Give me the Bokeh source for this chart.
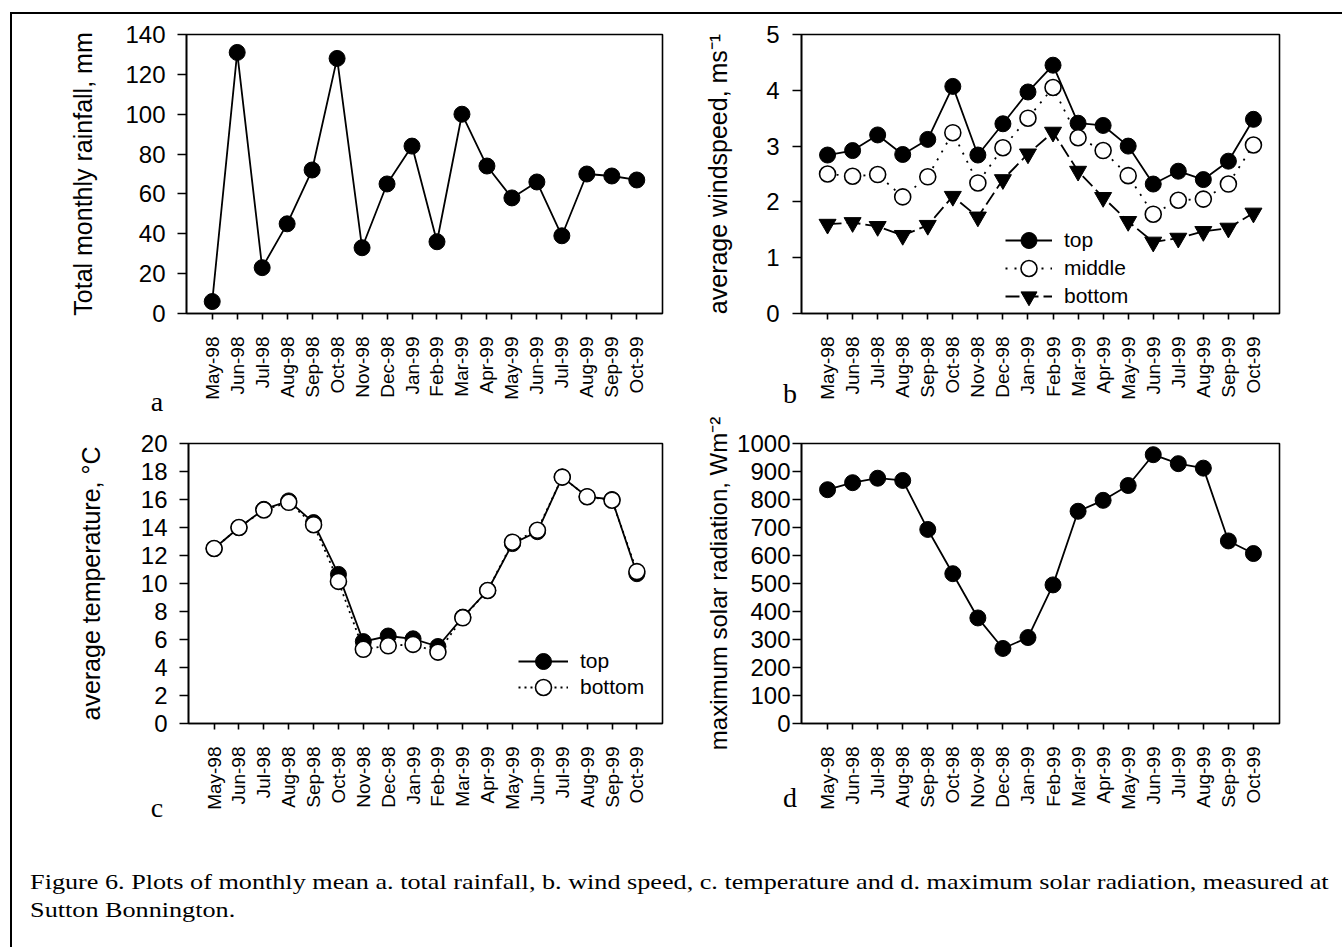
import math

from bokeh.plotting import figure
from bokeh.layouts import column, row
from bokeh.models import (FactorRange, Range1d, SingleIntervalTicker, Legend,
                          LegendItem, Div)
from bokeh.embed import file_html
from bokeh.resources import INLINE

# ---- data -------------------------------------------------------------
months = ["May-98", "Jun-98", "Jul-98", "Aug-98", "Sep-98", "Oct-98",
          "Nov-98", "Dec-98", "Jan-99", "Feb-99", "Mar-99", "Apr-99",
          "May-99", "Jun-99", "Jul-99", "Aug-99", "Sep-99", "Oct-99"]

rainfall = [6, 131, 23, 45, 72, 128, 33, 65, 84, 36, 100, 74, 58, 66, 39, 70, 69, 67]

wind_top = [2.84, 2.92, 3.2, 2.85, 3.12, 4.07, 2.84, 3.4, 3.97, 4.45,
            3.41, 3.37, 3.0, 2.32, 2.55, 2.4, 2.73, 3.48]
wind_middle = [2.5, 2.46, 2.49, 2.09, 2.45, 3.24, 2.34, 2.97, 3.5, 4.05,
               3.15, 2.92, 2.47, 1.78, 2.03, 2.05, 2.32, 3.02]
wind_bottom = [1.6, 1.63, 1.56, 1.4, 1.58, 2.1, 1.73, 2.4, 2.86, 3.25,
               2.55, 2.08, 1.65, 1.28, 1.35, 1.47, 1.53, 1.8]

temp_top = [12.5, 14.0, 15.3, 15.9, 14.35, 10.65, 5.85, 6.25, 6.05, 5.5,
            7.6, 9.5, 12.85, 13.7, 17.6, 16.2, 16.0, 10.7]
temp_bottom = [12.5, 14.0, 15.25, 15.8, 14.2, 10.15, 5.3, 5.55, 5.65, 5.1,
               7.55, 9.5, 12.95, 13.8, 17.6, 16.2, 15.95, 10.85]

solar = [835, 860, 876, 868, 693, 535, 377, 268, 307, 495, 758, 797, 850,
         960, 928, 912, 652, 607]

panel_letters = ["a", "b", "c", "d"]

caption_lines = [
    "Figure 6. Plots of monthly mean a. total rainfall, b. wind speed, "
    "c. temperature and d. maximum solar radiation, measured at",
    "Sutton Bonnington.",
]

# ---- styling helpers ---------------------------------------------------
SANS = "Liberation Sans"
SERIF = "Liberation Serif"
INK = "#000000"


def make_panel(width, height, borders, y_max, y_step, y_label, label_standoff,
               tick_standoff, pad, label_size="25px"):
    left, right, top, bottom = borders
    p = figure(width=width, height=height, output_backend="svg",
               toolbar_location=None,
               x_range=FactorRange(factors=months, range_padding=pad,
                                   range_padding_units="absolute"),
               y_range=Range1d(0, y_max),
               min_border_left=left, min_border_right=right,
               min_border_top=top, min_border_bottom=bottom)
    p.background_fill_color = "white"
    p.border_fill_color = "white"
    p.outline_line_color = INK
    p.outline_line_width = 1.6
    p.grid.visible = False

    xa = p.xaxis[0]
    xa.major_label_orientation = math.pi / 2
    xa.major_label_text_font = SANS
    xa.major_label_text_font_size = "19px"
    xa.major_label_text_color = INK
    xa.major_label_standoff = 17
    xa.major_tick_out = 6
    xa.major_tick_in = 0
    xa.axis_line_width = 1.6
    xa.major_tick_line_width = 1.6

    ya = p.yaxis[0]
    ya.ticker = SingleIntervalTicker(interval=y_step, num_minor_ticks=0)
    ya.major_label_text_font = SANS
    ya.major_label_text_font_size = "24px"
    ya.major_label_text_color = INK
    ya.major_label_standoff = tick_standoff
    ya.major_tick_out = 9
    ya.major_tick_in = 0
    ya.minor_tick_line_color = None
    ya.axis_line_width = 1.6
    ya.major_tick_line_width = 1.6
    ya.axis_label = y_label
    ya.axis_label_text_font = SANS
    ya.axis_label_text_font_size = label_size
    ya.axis_label_text_font_style = "normal"
    ya.axis_label_text_color = INK
    ya.axis_label_standoff = label_standoff
    return p


def legend_entry(p, label, renderers, loc, glyph_w):
    # one legend per entry so the rows can sit closer than the glyph box
    p.add_layout(Legend(items=[LegendItem(label=label, renderers=renderers)],
                        location=loc, padding=0, margin=0, spacing=0,
                        glyph_width=glyph_w, glyph_height=40,
                        label_standoff=12, label_text_font=SANS,
                        label_text_font_size="21px", label_text_color=INK,
                        background_fill_alpha=0, border_line_alpha=0))


# ---- a: rainfall -------------------------------------------------------
pa = make_panel(688, 394, (174, 38, 20, 89), 140, 20,
                "Total monthly rainfall, mm", 25, 12, 0.53)
pa.line(months, rainfall, line_color=INK, line_width=1.8)
pa.scatter(months, rainfall, marker="circle", size=16, fill_color=INK,
           line_color=INK)

# ---- b: wind speed -----------------------------------------------------
pb = make_panel(642, 394, (101, 63, 19, 95), 5, 1,
                "average windspeed, ms\u207b\u00b9", 31, 13, 0.54)
lt = pb.line(months, wind_top, line_color=INK, line_width=1.8)
st = pb.scatter(months, wind_top, marker="circle", size=16, fill_color=INK,
                line_color=INK)
lm = pb.line(months, wind_middle, line_color=INK, line_width=1.8,
             line_dash="2 7")
sm = pb.scatter(months, wind_middle, marker="circle", size=16,
                fill_color="white", line_color=INK, line_width=1.6)
lb = pb.line(months, wind_bottom, line_color=INK, line_width=1.8,
             line_dash="14 5")
sb = pb.scatter(months, wind_bottom, marker="inverted_triangle", size=17,
                fill_color=INK, line_color=INK)
legend_entry(pb, "top", [lt, st], (204, 53), 47)
legend_entry(pb, "middle", [lm, sm], (204, 25), 47)
legend_entry(pb, "bottom", [lb, sb], (204, -3), 47)

# ---- c: temperature ----------------------------------------------------
pc = make_panel(688, 422, (176, 38, 35, 101), 20, 2,
                "average temperature, \u00b0C", 33, 12, 0.53)
ct = pc.line(months, temp_top, line_color=INK, line_width=1.8)
cts = pc.scatter(months, temp_top, marker="circle", size=16, fill_color=INK,
                 line_color=INK)
cb = pc.line(months, temp_bottom, line_color=INK, line_width=1.8,
             line_dash="2 4")
cbs = pc.scatter(months, temp_bottom, marker="circle", size=16,
                 fill_color="white", line_color=INK, line_width=1.6)
legend_entry(pc, "top", [ct, cts], (330, 42), 50)
legend_entry(pc, "bottom", [cb, cbs], (330, 16), 50)

# ---- d: solar radiation ------------------------------------------------
pd_ = make_panel(642, 422, (101, 63, 31, 107), 1000, 100,
                 "maximum solar radiation, Wm\u207b\u00b2", 2, 2, 0.54,
                 label_size="24px")
pd_.line(months, solar, line_color=INK, line_width=1.8)
pd_.scatter(months, solar, marker="circle", size=16, fill_color=INK,
            line_color=INK)

# ---- caption block (also carries the panel letters, lifted into place) --
letter_spots = [(140, -433), (773, -441), (140, -27), (773, -37)]
letters_html = "".join(
    "<span style=\"position:absolute;left:{}px;top:{}px;"
    "transform:translate(-50%,-50%);font-family:'Liberation Serif';"
    "font-size:28px;line-height:1;color:#000;z-index:10;\">{}</span>"
    .format(x, y, t) for (x, y), t in zip(letter_spots, panel_letters))

cap = Div(text=(
    "<div style=\"position:relative;height:116px;overflow:visible;\">"
    + letters_html +
    "<div style=\"font-family:'Liberation Serif';font-size:22px;"
    "line-height:28px;color:#000;padding:33px 0 0 11px;white-space:nowrap;"
    "transform:scaleX(1.19);transform-origin:0 0;\">"
    + "<br>".join(caption_lines) + "</div>"
    "<div style=\"position:absolute;left:1238px;top:113px;width:92px;"
    "height:2px;background:#000;\"></div></div>"),
    width=1330, height=116, styles={"overflow": "visible", "z-index": "10"})

root = column(row(pa, pb, spacing=0), row(pc, pd_, spacing=0), cap,
              spacing=0, margin=(12, 0, 0, 10),
              styles={"border-top": "2px solid #000",
                      "border-left": "2px solid #000"})

open("out.html", "w").write(file_html(root, INLINE))
